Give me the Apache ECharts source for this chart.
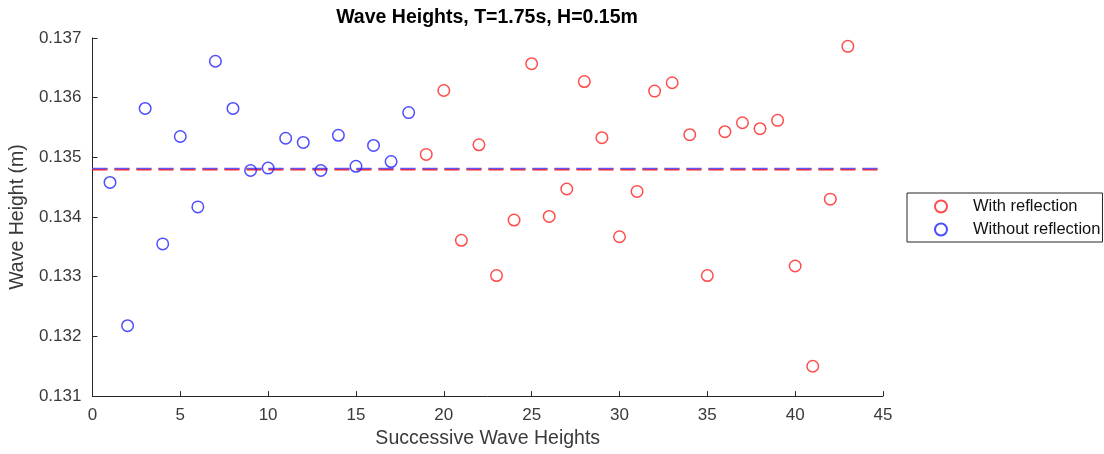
<!DOCTYPE html>
<html>
<head>
<meta charset="utf-8">
<script src="https://cdn.jsdelivr.net/npm/echarts@6/dist/echarts.min.js"></script>
<style>
  html, body { margin: 0; padding: 0; background: #fff; }
  #chart { width: 1104px; height: 454px; }
</style>
</head>
<body>
<div id="chart"></div>
<script>
// Wave index (x) and measured wave height in metres (y)
const waveIndexWithout = [1, 2, 3, 4, 5, 6, 7, 8, 9, 10, 11, 12, 13, 14, 15, 16, 17, 18];
const heightsWithout = [0.13458, 0.13218, 0.13582, 0.13355, 0.13535, 0.13417, 0.13661, 0.13582, 0.13478,
  0.13482, 0.13532, 0.13525, 0.13478, 0.13537, 0.13485, 0.13520, 0.13493, 0.13575];

const waveIndexWith = [19, 20, 21, 22, 23, 24, 25, 26, 27, 28, 29, 30, 31, 32, 33, 34, 35, 36, 37, 38, 39, 40, 41, 42, 43];
const heightsWith = [0.13505, 0.13612, 0.13361, 0.13521, 0.13302, 0.13395, 0.13657, 0.13401, 0.13447,
  0.13627, 0.13533, 0.13367, 0.13443, 0.13611, 0.13625, 0.13538, 0.13302, 0.13543, 0.13558, 0.13548,
  0.13562, 0.13318, 0.13150, 0.13430, 0.13686];

// Reference levels drawn as dashed horizontal lines
const levelWith = 0.13480;
const levelWithout = 0.134815;

const xRange = [0, 45];
const yRange = [0.131, 0.137];

const seriesNames = ['With reflection', 'Without reflection'];

const axisColor = '#262626';
const textColor = '#3a3a3a';
const red = '#ff2020';
const blue = '#2020ff';

const zip = (xs, ys) => xs.map((x, i) => [x, ys[i]]);

const chart = echarts.init(document.getElementById('chart'), null, { renderer: 'canvas' });

chart.setOption({
  animation: false,
  backgroundColor: '#ffffff',
  textStyle: { fontFamily: '"Liberation Sans", Arial, sans-serif' },
  title: {
    text: 'Wave Heights, T=1.75s, H=0.15m',
    left: 487,
    textAlign: 'center',
    top: 8,
    padding: 0,
    textStyle: { fontSize: 19.5, fontWeight: 'bold', color: '#000', fontFamily: '"Liberation Sans", Arial, sans-serif' }
  },
  grid: { left: 92, right: 221, top: 38, bottom: 56, containLabel: false },
  legend: {
    orient: 'vertical',
    left: 907,
    top: 193,
    data: seriesNames,
    itemWidth: 54,
    itemHeight: 12,
    itemGap: 6,
    padding: [5, 2, 4, 27],
    borderColor: axisColor,
    borderWidth: 1,
    backgroundColor: '#fff',
    textStyle: { fontSize: 16.5, color: '#111', fontFamily: '"Liberation Sans", Arial, sans-serif' }
  },
  xAxis: {
    type: 'value',
    min: xRange[0],
    max: xRange[1],
    interval: 5,
    name: 'Successive Wave Heights',
    nameLocation: 'middle',
    nameGap: 32,
    nameTextStyle: { fontSize: 19.5, color: textColor },
    axisLine: { show: true, lineStyle: { color: axisColor, width: 1 } },
    axisTick: { show: true, inside: true, length: 5, lineStyle: { color: axisColor } },
    axisLabel: { fontSize: 17, color: textColor, margin: 11 },
    splitLine: { show: false }
  },
  yAxis: {
    type: 'value',
    min: yRange[0],
    max: yRange[1],
    interval: 0.001,
    name: 'Wave Height (m)',
    nameLocation: 'middle',
    nameGap: 61,
    nameRotate: 90,
    nameTextStyle: { fontSize: 19.5, color: textColor },
    axisLine: { show: true, lineStyle: { color: axisColor, width: 1 } },
    axisTick: { show: true, inside: true, length: 5, lineStyle: { color: axisColor } },
    axisLabel: { fontSize: 17, color: textColor, margin: 11, formatter: v => v.toFixed(3) },
    splitLine: { show: false }
  },
  series: [
    {
      name: seriesNames[0],
      type: 'scatter',
      symbol: 'circle',
      symbolSize: 11.5,
      itemStyle: { color: 'rgba(0,0,0,0)', borderColor: red, borderWidth: 1.5 },
      data: zip(waveIndexWith, heightsWith),
      z: 3
    },
    {
      name: seriesNames[1],
      type: 'scatter',
      symbol: 'circle',
      symbolSize: 11.5,
      itemStyle: { color: 'rgba(0,0,0,0)', borderColor: blue, borderWidth: 1.5 },
      data: zip(waveIndexWithout, heightsWithout),
      z: 3
    },
    {
      name: 'levelWith',
      type: 'line',
      symbol: 'none',
      silent: true,
      lineStyle: { color: red, width: 2.5, type: [15, 7] },
      data: [[xRange[0], levelWith], [xRange[1], levelWith]],
      z: 2
    },
    {
      name: 'levelWithout',
      type: 'line',
      symbol: 'none',
      silent: true,
      lineStyle: { color: '#5a5aff', width: 1.5, type: [15, 7] },
      data: [[xRange[0], levelWithout], [xRange[1], levelWithout]],
      z: 2
    }
  ]
});
</script>
</body>
</html>
